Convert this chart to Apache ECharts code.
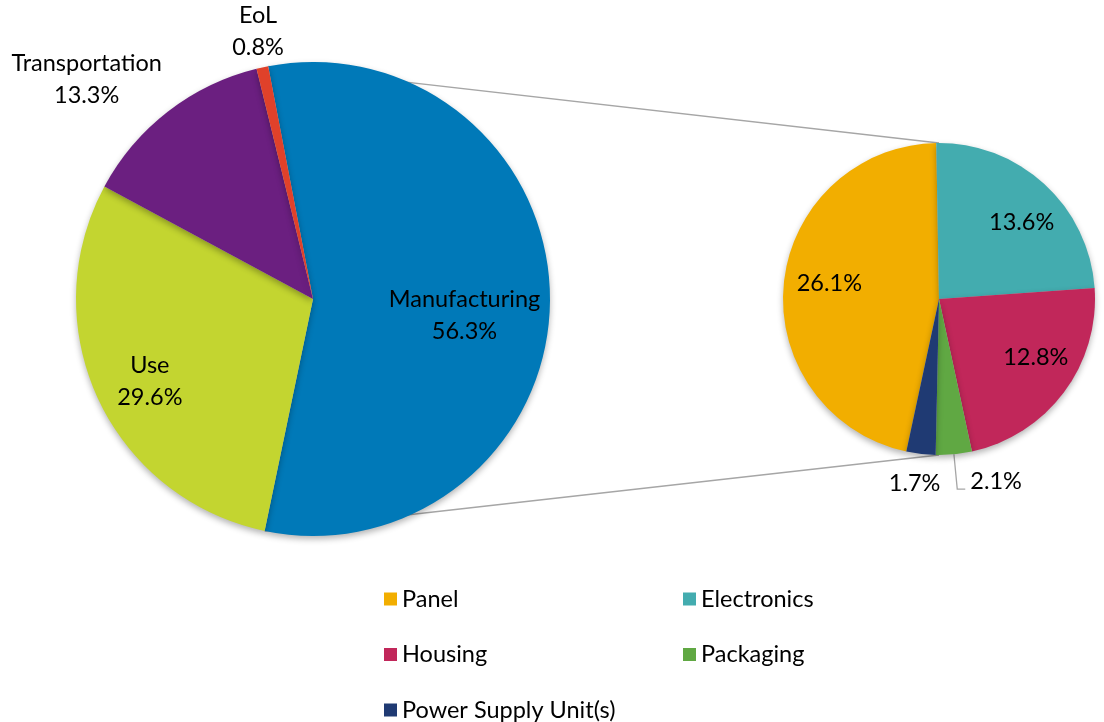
<!DOCTYPE html>
<html>
<head>
<meta charset="utf-8">
<script src="https://cdn.jsdelivr.net/npm/echarts@6/dist/echarts.min.js"></script>
<style>
  html, body { margin: 0; padding: 0; background: #fff; }
  #chart { width: 1104px; height: 722px; }
</style>
</head>
<body>
<div id="chart"></div>
<script>
// main pie: life-cycle phases
const phaseNames = ['Manufacturing', 'Use', 'Transportation', 'EoL'];
const phaseValues = [56.3, 29.6, 13.3, 0.8];
const phaseColors = ['#0079b8', '#c3d530', '#6b1f80', '#e0412a'];

// secondary pie: manufacturing split
const partNames = ['Panel', 'Electronics', 'Housing', 'Packaging', 'Power Supply Unit(s)'];
const partValues = [26.1, 13.6, 12.8, 2.1, 1.7];
const partColors = ['#f2ae00', '#43acaf', '#c1275a', '#60a843', '#1f3a73'];

const FONT = 'Lato';
const FS = 23.5;
const mainC = [313, 299], mainR = 237, mainStart = 100.9;
const subC = [939, 299], subR = 156, subStart = 257.9;

// label nudges from the library's inside position (px)
const mainNudge = [[30, 15], [-53, 31], [-152, -123], [-29, -149]];
const subNudge = [[-29, -8], [28, -17], [32, 10], [0, -8], [-15, 104]];

const chart = echarts.init(document.getElementById('chart'));

// connector lines: from edges of the Manufacturing slice to top/bottom of sub pie
const total = phaseValues.reduce((a, b) => a + b, 0);
const a0 = (90 - mainStart) * Math.PI / 180;
const a1 = a0 + phaseValues[0] / total * 2 * Math.PI;
const pt = (c, r, a) => [c[0] + r * Math.sin(a), c[1] - r * Math.cos(a)];
const p0 = pt(mainC, mainR, a0), p1 = pt(mainC, mainR, a1);
const q0 = pt(subC, subR, 0), q1 = pt(subC, subR, Math.PI);

const lineStyle = { stroke: '#a6a6a6', lineWidth: 1.3 };
const shadow = { shadowBlur: 6, shadowColor: 'rgba(0,0,0,0.3)', shadowOffsetY: 3 };

const legendBase = {
  orient: 'vertical', top: 587, height: 160, padding: 0,
  itemWidth: 13, itemHeight: 13, itemGap: 31.5,
  icon: 'rect',
  textStyle: { fontFamily: FONT, fontSize: FS, color: '#000', lineHeight: 24 }
};

const option = {
  animation: false,
  textStyle: { fontFamily: FONT },
  graphic: [
    { type: 'line', z: -10, shape: { x1: p0[0], y1: p0[1], x2: q0[0], y2: q0[1] }, style: lineStyle },
    { type: 'line', z: -10, shape: { x1: p1[0], y1: p1[1], x2: q1[0], y2: q1[1] }, style: lineStyle }
  ],
  legend: [
    Object.assign({ data: ['Panel', 'Housing', 'Power Supply Unit(s)'], left: 384 }, legendBase),
    Object.assign({ data: ['Electronics', 'Packaging'], left: 683 }, legendBase)
  ],
  series: [
    {
      type: 'pie',
      center: mainC,
      radius: mainR,
      startAngle: mainStart,
      clockwise: true,
      itemStyle: Object.assign({ borderWidth: 0 }, shadow),
      label: {
        position: 'inside',
        formatter: p => p.name + '\n' + p.value.toFixed(1) + '%',
        fontFamily: FONT, fontSize: FS, lineHeight: 32, color: '#000'
      },
      labelLayout: p => {
        const n = mainNudge[p.dataIndex];
        return { dx: n[0], dy: n[1] };
      },
      emphasis: { disabled: true },
      data: phaseNames.map((n, i) => ({ name: n, value: phaseValues[i], itemStyle: { color: phaseColors[i] } }))
    },
    {
      type: 'pie',
      center: subC,
      radius: subR,
      startAngle: subStart,
      clockwise: true,
      itemStyle: Object.assign({ borderWidth: 0 }, shadow),
      label: {
        position: 'inside',
        formatter: p => p.value.toFixed(1) + '%',
        fontFamily: FONT, fontSize: FS, color: '#000'
      },
      labelLine: { show: true, length: 35, length2: 8, lineStyle: { color: '#a6a6a6', width: 1.3 } },
      labelLayout: p => {
        const n = subNudge[p.dataIndex];
        return { dx: n[0], dy: n[1] };
      },
      emphasis: { disabled: true },
      data: partNames.map((n, i) => ({
        name: n, value: partValues[i],
        itemStyle: { color: partColors[i] },
        label: n === 'Packaging' ? { position: 'outside' } : undefined
      }))
    }
  ]
};
chart.setOption(option);
</script>
</body>
</html>
